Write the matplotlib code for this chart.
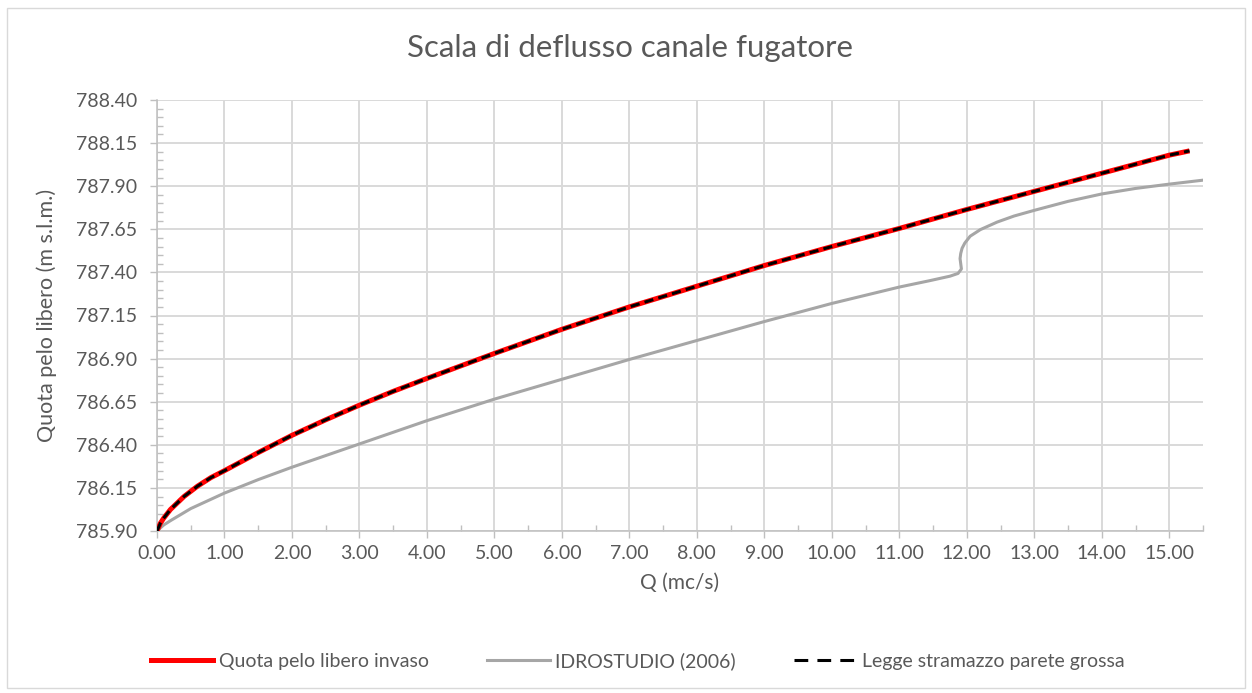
import matplotlib
matplotlib.use("Agg")
import matplotlib.pyplot as plt
from matplotlib.ticker import FixedLocator, MultipleLocator, FormatStrFormatter
from matplotlib.lines import Line2D
from matplotlib.patches import Rectangle

# Rating curve of the outlet channel: discharge Q (m^3/s) vs water level (m a.s.l.)
q_invaso = [0.0, 0.05, 0.1, 0.2, 0.4, 0.6, 0.8, 1.0, 1.5, 2.0, 2.5, 3.0, 3.5, 4.0,
            5.0, 6.0, 7.0, 8.0, 9.0, 10.0, 11.0, 12.0, 13.0, 14.0, 15.0, 15.3]
z_invaso = [785.90, 785.945, 785.975, 786.025, 786.10, 786.16, 786.21, 786.25, 786.355,
            786.455, 786.545, 786.63, 786.71, 786.785, 786.93, 787.07, 787.20, 787.32,
            787.44, 787.55, 787.655, 787.765, 787.87, 787.975, 788.08, 788.105]

q_idrostudio = [0.0, 0.1, 0.2, 0.5, 1.0, 1.5, 2.0, 3.0, 4.0, 5.0, 6.0, 7.0, 8.0, 9.0,
                10.0, 11.0, 11.45, 11.75, 11.87, 11.92, 11.91, 11.90, 11.91, 11.93,
                11.97, 12.05, 12.2, 12.45, 12.7, 13.0, 13.5, 14.0, 14.5, 15.0, 15.5]
z_idrostudio = [785.90, 785.935, 785.96, 786.03, 786.12, 786.198, 786.27, 786.405, 786.54,
                786.665, 786.78, 786.895, 787.005, 787.115, 787.22, 787.315, 787.352,
                787.378, 787.394, 787.42, 787.45, 787.48, 787.51, 787.54, 787.57,
                787.61, 787.648, 787.692, 787.727, 787.76, 787.812, 787.855, 787.887,
                787.912, 787.935]

q_stramazzo = list(q_invaso)
z_stramazzo = list(z_invaso)

labels = ["Quota pelo libero invaso", "IDROSTUDIO (2006)", "Legge stramazzo parete grossa"]

# level axis: 785.90 .. 788.40, labelled every 0.25 m, minor marks every 0.05 m
y_ticks = [785.90, 786.15, 786.40, 786.65, 786.90, 787.15, 787.40, 787.65, 787.90,
           788.15, 788.40]
y_min, y_max = 785.90, 788.40
x_min, x_max = 0.0, 15.5

plt.rcParams["font.family"] = ["Lato", "DejaVu Sans"]
text_col = "#595959"
grid_col = "#D9D9D9"

W, H = 1252, 693
fig = plt.figure(figsize=(W / 100, H / 100), dpi=100)
fig.patches.append(Rectangle((7 / W, 5 / H), 1238 / W, 680 / H, transform=fig.transFigure,
                             fill=False, ec=grid_col, lw=1.0))

left, right, top, bottom = 157, 1203, 100, 531
ax = fig.add_axes([left / W, 1 - bottom / H, (right - left) / W, (bottom - top) / H])

ax.plot(q_idrostudio, z_idrostudio, color="#A6A6A6", lw=2.2, solid_joinstyle="round", zorder=3)
ax.plot(q_invaso, z_invaso, color="#FF0000", lw=3.6, solid_capstyle="butt", zorder=4)
ax.plot(q_stramazzo, z_stramazzo, color="black", lw=2.2, dashes=(3.0, 1.7),
        dash_capstyle="butt", zorder=5)

ax.set_xlim(x_min, x_max)
ax.set_ylim(y_min, y_max)
ax.xaxis.set_major_locator(MultipleLocator(1.0))
ax.xaxis.set_minor_locator(MultipleLocator(0.5))
ax.yaxis.set_major_locator(FixedLocator(y_ticks))
minor_y = [y_min + 0.05 * i for i in range(int(round((y_max - y_min) / 0.05)) + 1)]
ax.yaxis.set_minor_locator(FixedLocator(minor_y))
ax.xaxis.set_major_formatter(FormatStrFormatter("%.2f"))
ax.yaxis.set_major_formatter(FormatStrFormatter("%.2f"))

ax.grid(True, which="major", color=grid_col, lw=1.4, zorder=0)
ax.set_axisbelow(True)
for s in ("top", "right"):
    ax.spines[s].set_visible(False)
for s in ("left", "bottom"):
    ax.spines[s].set_color("#BFBFBF")
    ax.spines[s].set_linewidth(1.1)

ax.tick_params(which="major", direction="out", length=5, width=1, color="#BFBFBF",
               labelcolor=text_col, labelsize=14)
ax.tick_params(axis="y", which="major", pad=9)
ax.tick_params(axis="x", which="major", pad=5)
ax.tick_params(which="minor", direction="in", length=4, width=1, color="#BFBFBF")

ax.set_xlabel("Q (mc/s)", fontsize=15, color=text_col, labelpad=8)
ax.set_ylabel("Quota pelo libero (m s.l.m.)", fontsize=15.5, color=text_col, labelpad=14)
fig.text(630 / W, 1 - 48 / H, "Scala di deflusso canale fugatore", ha="center", va="center",
         fontsize=22.5, color=text_col)

handles = [Line2D([], [], color="#FF0000", lw=3.6),
           Line2D([], [], color="#A6A6A6", lw=2.2),
           Line2D([], [], color="black", lw=2.2, dashes=(4.5, 3.0), dash_capstyle="butt")]
fig.legend(handles, labels, loc="center", bbox_to_anchor=(638 / W, 1 - 661 / H), ncol=3,
           frameon=False, fontsize=14, labelcolor=text_col, handlelength=3.2,
           handletextpad=0.3, columnspacing=3.0)

fig.savefig("out.png", dpi=100)
